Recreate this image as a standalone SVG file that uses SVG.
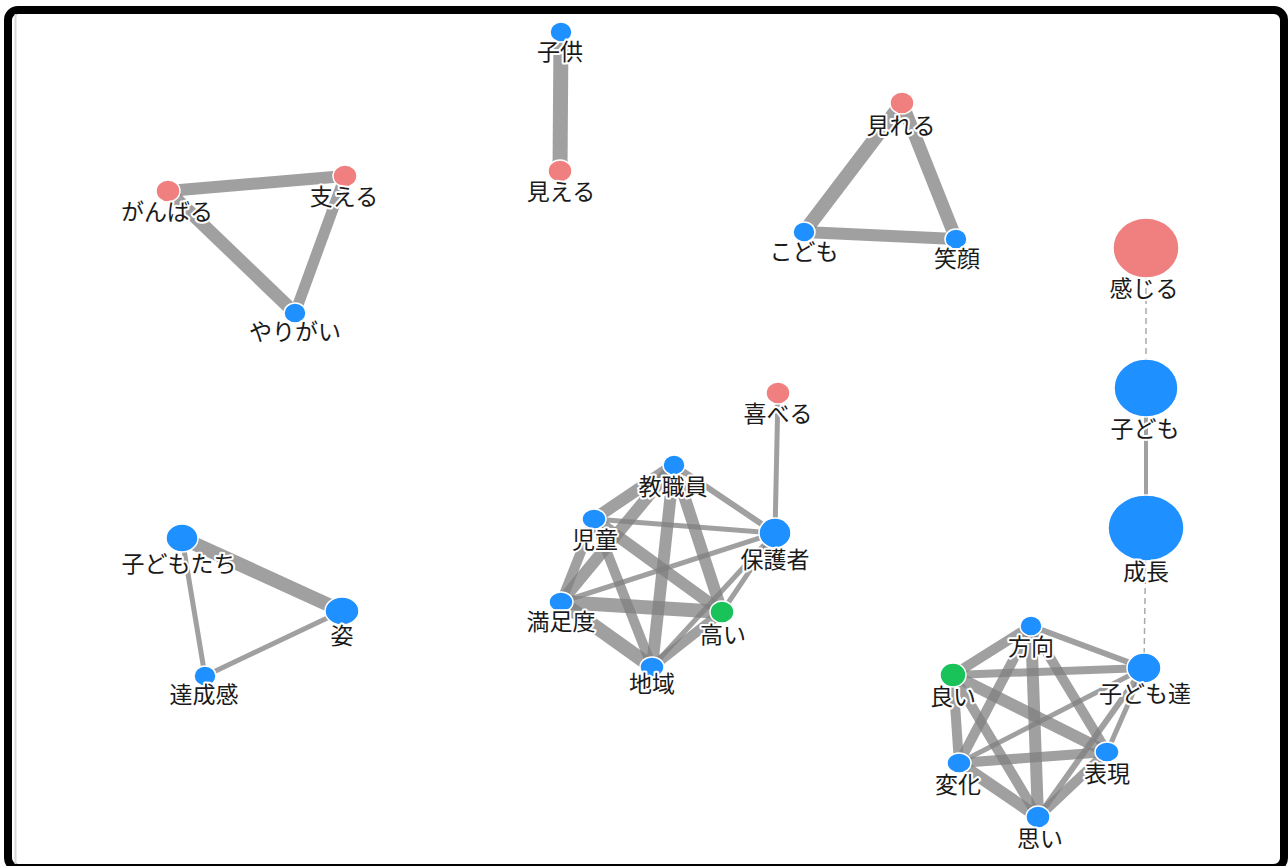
<svg xmlns="http://www.w3.org/2000/svg" width="1288" height="866" viewBox="0 0 1288 866">
<style>
.e{stroke:#808080;stroke-opacity:0.75;stroke-linecap:butt;fill:none}
.d{stroke:#aaaaaa;stroke-width:1.5;stroke-dasharray:6,4;fill:none}
.n{stroke:#ffffff;stroke-width:1.5}
.p{fill:#F08080}
.b{fill:#1E90FF}
.g{fill:#19C35A}
text{font-family:"Noto Sans CJK JP","Noto Sans",sans-serif;font-size:23px;text-anchor:middle;fill:#1a1a1a;stroke:#ffffff;stroke-width:4;paint-order:stroke;stroke-linejoin:round}
</style>
<rect x="0" y="0" width="1288" height="866" fill="#ffffff"/>
<rect x="8" y="10" width="1276" height="858" rx="10" fill="#ffffff" stroke="#000000" stroke-width="8"/>
<line x1="15.5" y1="14" x2="15.5" y2="864" stroke="#d8d8d8" stroke-width="2"/>
<g id="connectors">
<line class="e" x1="168" y1="191" x2="345" y2="176" stroke-width="12"/>
<line class="e" x1="168" y1="191" x2="295" y2="313" stroke-width="13"/>
<line class="e" x1="345" y1="176" x2="295" y2="313" stroke-width="11"/>
<line class="e" x1="561" y1="32" x2="560" y2="171" stroke-width="15"/>
<line class="e" x1="902" y1="103" x2="804" y2="232" stroke-width="14"/>
<line class="e" x1="902" y1="103" x2="956" y2="239" stroke-width="13"/>
<line class="e" x1="804" y1="232" x2="956" y2="239" stroke-width="12"/>
<line class="e" x1="182" y1="538" x2="342" y2="611" stroke-width="14"/>
<line class="e" x1="182" y1="538" x2="205" y2="676" stroke-width="5"/>
<line class="e" x1="342" y1="611" x2="205" y2="676" stroke-width="5"/>
<line class="e" x1="674" y1="465" x2="594" y2="519" stroke-width="12"/>
<line class="e" x1="674" y1="465" x2="561" y2="602" stroke-width="12"/>
<line class="e" x1="674" y1="465" x2="652" y2="667" stroke-width="12"/>
<line class="e" x1="674" y1="465" x2="722" y2="612" stroke-width="12"/>
<line class="e" x1="674" y1="465" x2="775" y2="533" stroke-width="6"/>
<line class="e" x1="594" y1="519" x2="775" y2="533" stroke-width="5"/>
<line class="e" x1="594" y1="519" x2="561" y2="602" stroke-width="10"/>
<line class="e" x1="594" y1="519" x2="652" y2="667" stroke-width="10"/>
<line class="e" x1="594" y1="519" x2="722" y2="612" stroke-width="12"/>
<line class="e" x1="561" y1="602" x2="775" y2="533" stroke-width="5"/>
<line class="e" x1="561" y1="602" x2="722" y2="612" stroke-width="14"/>
<line class="e" x1="561" y1="602" x2="652" y2="667" stroke-width="14"/>
<line class="e" x1="652" y1="667" x2="722" y2="612" stroke-width="10"/>
<line class="e" x1="652" y1="667" x2="775" y2="533" stroke-width="5"/>
<line class="e" x1="722" y1="612" x2="775" y2="533" stroke-width="5"/>
<line class="e" x1="775" y1="533" x2="778" y2="393" stroke-width="5"/>
<line class="e" x1="1031" y1="626" x2="953" y2="675" stroke-width="10"/>
<line class="e" x1="1031" y1="626" x2="959" y2="763" stroke-width="10"/>
<line class="e" x1="1031" y1="626" x2="1038" y2="817" stroke-width="12"/>
<line class="e" x1="1031" y1="626" x2="1107" y2="752" stroke-width="10"/>
<line class="e" x1="1031" y1="626" x2="1144" y2="668" stroke-width="6"/>
<line class="e" x1="953" y1="675" x2="1144" y2="668" stroke-width="8"/>
<line class="e" x1="953" y1="675" x2="959" y2="763" stroke-width="10"/>
<line class="e" x1="953" y1="675" x2="1038" y2="817" stroke-width="10"/>
<line class="e" x1="953" y1="675" x2="1107" y2="752" stroke-width="12"/>
<line class="e" x1="959" y1="763" x2="1144" y2="668" stroke-width="5"/>
<line class="e" x1="959" y1="763" x2="1107" y2="752" stroke-width="10"/>
<line class="e" x1="959" y1="763" x2="1038" y2="817" stroke-width="12"/>
<line class="e" x1="1038" y1="817" x2="1107" y2="752" stroke-width="10"/>
<line class="e" x1="1038" y1="817" x2="1144" y2="668" stroke-width="6"/>
<line class="e" x1="1107" y1="752" x2="1144" y2="668" stroke-width="5"/>
<line class="d" x1="1146" y1="248" x2="1146" y2="388"/>
<line class="e" x1="1146" y1="388" x2="1146" y2="528" stroke-width="4"/>
<line class="d" x1="1146" y1="528" x2="1144" y2="668"/>
</g>
<g id="node-ganbaru"><ellipse class="n p" cx="168" cy="191" rx="12" ry="11"/><text x="167" y="220">がんばる</text></g>
<g id="node-sasaeru"><ellipse class="n p" cx="345" cy="176" rx="12" ry="11"/><text x="344" y="205">支える</text></g>
<g id="node-yarigai"><ellipse class="n b" cx="295" cy="313" rx="11" ry="10"/><text x="295" y="340">やりがい</text></g>
<g id="node-kodomo-kyo"><ellipse class="n b" cx="561" cy="32" rx="11" ry="10"/><text x="560" y="60">子供</text></g>
<g id="node-mieru"><ellipse class="n p" cx="560" cy="171" rx="12" ry="11"/><text x="561" y="200">見える</text></g>
<g id="node-mireru"><ellipse class="n p" cx="902" cy="103" rx="12" ry="11"/><text x="901" y="134">見れる</text></g>
<g id="node-kodomo-hira"><ellipse class="n b" cx="804" cy="232" rx="11" ry="10"/><text x="804" y="260">こども</text></g>
<g id="node-egao"><ellipse class="n b" cx="956" cy="239" rx="11" ry="10"/><text x="957" y="267">笑顔</text></g>
<g id="node-kodomotachi"><ellipse class="n b" cx="182" cy="538" rx="16" ry="14"/><text x="179" y="572">子どもたち</text></g>
<g id="node-sugata"><ellipse class="n b" cx="342" cy="611" rx="17" ry="14"/><text x="342" y="644">姿</text></g>
<g id="node-tasseikan"><ellipse class="n b" cx="205" cy="676" rx="11" ry="10"/><text x="204" y="703">達成感</text></g>
<g id="node-yorokoberu"><ellipse class="n p" cx="778" cy="393" rx="12" ry="11"/><text x="778" y="422">喜べる</text></g>
<g id="node-kyoshokuin"><ellipse class="n b" cx="674" cy="465" rx="11" ry="10"/><text x="673" y="495">教職員</text></g>
<g id="node-jido"><ellipse class="n b" cx="594" cy="519" rx="12" ry="10"/><text x="595" y="548">児童</text></g>
<g id="node-hogosha"><ellipse class="n b" cx="775" cy="533" rx="16" ry="15"/><text x="775" y="568">保護者</text></g>
<g id="node-manzokudo"><ellipse class="n b" cx="561" cy="602" rx="12" ry="10"/><text x="561" y="630">満足度</text></g>
<g id="node-takai"><ellipse class="n g" cx="722" cy="612" rx="12" ry="11"/><text x="723" y="643">高い</text></g>
<g id="node-chiiki"><ellipse class="n b" cx="652" cy="667" rx="12" ry="10"/><text x="652" y="692">地域</text></g>
<g id="node-kanjiru"><ellipse class="n p" cx="1146" cy="248" rx="33" ry="30"/><text x="1144" y="297">感じる</text></g>
<g id="node-kodomo"><ellipse class="n b" cx="1146" cy="388" rx="32" ry="29"/><text x="1145" y="437">子ども</text></g>
<g id="node-seicho"><ellipse class="n b" cx="1146" cy="528" rx="38" ry="33"/><text x="1146" y="580">成長</text></g>
<g id="node-hoko"><ellipse class="n b" cx="1031" cy="626" rx="11" ry="10"/><text x="1031" y="655">方向</text></g>
<g id="node-yoi"><ellipse class="n g" cx="953" cy="675" rx="13" ry="12"/><text x="953" y="705">良い</text></g>
<g id="node-kodomotachi2"><ellipse class="n b" cx="1144" cy="668" rx="17" ry="15"/><text x="1145" y="702">子ども達</text></g>
<g id="node-henka"><ellipse class="n b" cx="959" cy="763" rx="12" ry="10"/><text x="958" y="793">変化</text></g>
<g id="node-hyogen"><ellipse class="n b" cx="1107" cy="752" rx="12" ry="10"/><text x="1107" y="782">表現</text></g>
<g id="node-omoi"><ellipse class="n b" cx="1038" cy="817" rx="12" ry="11"/><text x="1040" y="847">思い</text></g>
</svg>
